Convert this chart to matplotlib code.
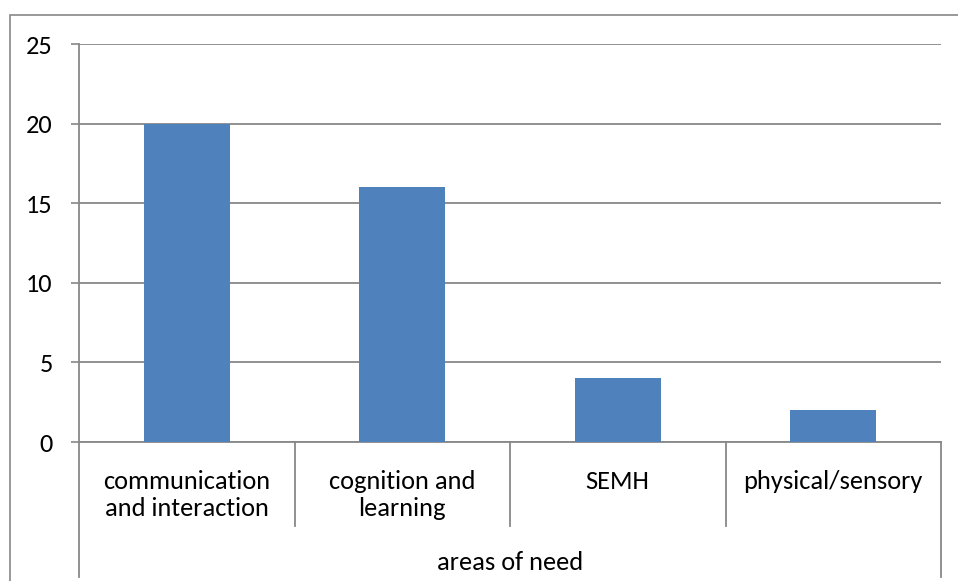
import matplotlib.pyplot as plt
from matplotlib.patches import Rectangle

categories = ["communication\nand interaction", "cognition and\nlearning", "SEMH", "physical/sensory"]
values = [20, 16, 4, 2]
y_ticks = [0, 5, 10, 15, 20, 25]
group_label = "areas of need"

plt.rcParams['font.family'] = ['Carlito', 'Lato', 'DejaVu Sans']

W, H = 958, 581
fig = plt.figure(figsize=(W / 100, H / 100), dpi=100)

grey = '#888888'
bar_color = '#4F81BD'
fs = 19

# outer chart border (cut off at right and bottom)
fig.patches.append(Rectangle((10 / W, -0.1), 1.2, 1 - 15 / H + 0.1,
                             transform=fig.transFigure, fill=False,
                             edgecolor=grey, linewidth=1.2))

left, right, top, bottom = 79, 941, 44, 442
ax = fig.add_axes([left / W, 1 - bottom / H, (right - left) / W, (bottom - top) / H])

x = list(range(len(categories)))
ax.bar(x, values, width=0.4, color=bar_color, zorder=3)

ax.set_xlim(-0.5, len(categories) - 0.5)
ax.set_ylim(0, 25)
ax.set_yticks(y_ticks)
ax.yaxis.grid(True, color=grey, linewidth=1.3)
ax.set_axisbelow(True)
ax.tick_params(axis='y', length=6, width=1.2, color=grey, pad=13, labelsize=fs)
ax.set_xticks([])

for s in ['top', 'right']:
    ax.spines[s].set_visible(False)
for s in ['left', 'bottom']:
    ax.spines[s].set_color(grey)
    ax.spines[s].set_linewidth(1.3)

trans = ax.get_xaxis_transform()
px = 1 / (bottom - top)
# category separators
for i in range(1, len(categories)):
    ax.plot([i - 0.5, i - 0.5], [0, -(526 - bottom) * px], color=grey,
            linewidth=1.3, transform=trans, clip_on=False)
for edge in [-0.5, len(categories) - 0.5]:
    ax.plot([edge, edge], [0, -(577 - bottom) * px], color=grey,
            linewidth=1.3, transform=trans, clip_on=False)

for i, lab in enumerate(categories):
    ax.text(i, -(470 - bottom) * px, lab, transform=trans, ha='center', va='top',
            fontsize=fs, linespacing=1.2)

ax.text((len(categories) - 1) / 2, -(562 - bottom) * px, group_label,
        transform=trans, ha='center', va='center', fontsize=fs)

fig.savefig('out.png', dpi=100)
